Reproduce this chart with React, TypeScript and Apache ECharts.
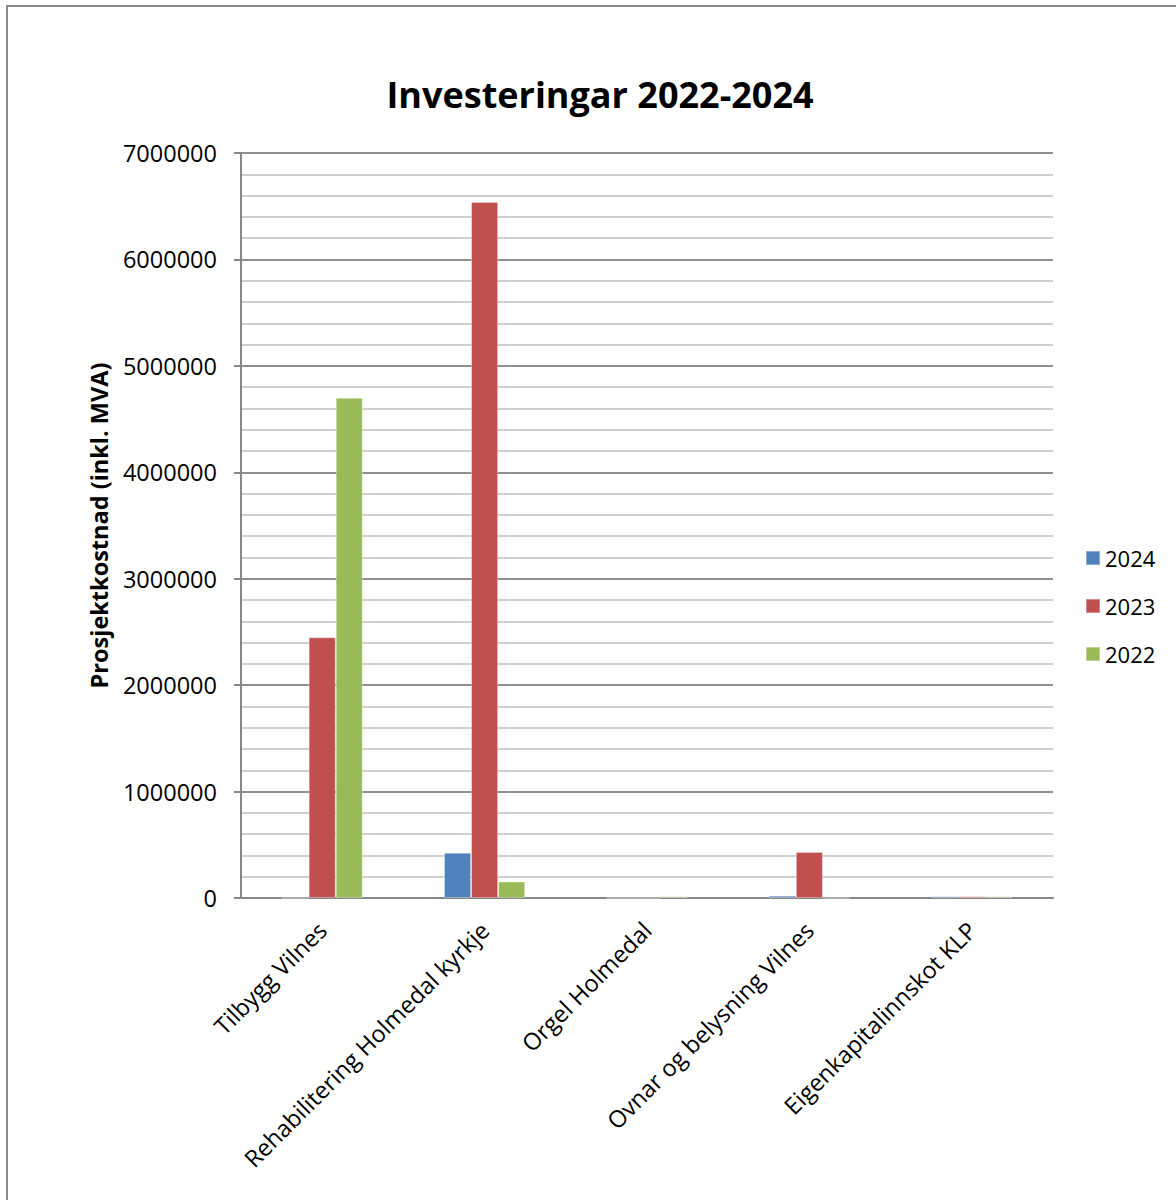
import React, { useEffect, useRef } from "react";
import * as echarts from "echarts";

const categories = [
  "Tilbygg Vilnes",
  "Rehabilitering Holmedal kyrkje",
  "Orgel Holmedal",
  "Ovnar og belysning Vilnes",
  "Eigenkapitalinnskot KLP",
];
const values2024 = [0, 425000, 0, 22000, 16000];
const values2023 = [2450000, 6540000, 0, 433000, 16000];
const values2022 = [4700000, 155000, 16000, 0, 16000];
const seriesNames = ["2024", "2023", "2022"];
const colors = ["#4F81BD", "#C0504D", "#9BBB59"];

const FONT = "'Open Sans', 'Liberation Sans', sans-serif";

export default function App() {
  const ref = useRef<HTMLDivElement>(null);
  useEffect(() => {
    document.body.style.margin = "0";
    const chart = echarts.init(ref.current!, null, { renderer: "svg" });
    const data = [values2024, values2023, values2022];
    chart.setOption({
      animation: false,
      backgroundColor: "#ffffff",
      textStyle: { fontFamily: FONT, color: "#000" },
      title: {
        text: "Investeringar 2022-2024",
        left: 595,
        top: 71,
        textAlign: "center",
        textStyle: { fontSize: 36, fontWeight: "bold", color: "#000", fontFamily: FONT },
      },
      graphic: [
        {
          type: "rect",
          shape: { x: 7, y: 6, width: 1250, height: 1300 },
          style: { fill: "none", stroke: "#8a8a8a", lineWidth: 2 },
          silent: true,
        },
      ],
      legend: {
        orient: "vertical",
        left: 1080,
        top: 541,
        itemWidth: 14,
        itemHeight: 14,
        itemGap: 24,
        icon: "rect",
        textStyle: { fontSize: 22, lineHeight: 24, color: "#000", fontFamily: FONT },
        data: seriesNames,
      },
      grid: { left: 241, right: 123, top: 153, bottom: 302, containLabel: false },
      xAxis: {
        type: "category",
        data: categories,
        axisLine: { lineStyle: { color: "#878787", width: 2 } },
        axisTick: { show: false },
        axisLabel: { rotate: 45, fontSize: 23.5, color: "#000", margin: 28, interval: 0, fontFamily: FONT },
      },
      yAxis: {
        type: "value",
        min: 0,
        max: 7000000,
        interval: 1000000,
        name: "Prosjektkostnad (inkl. MVA)",
        nameLocation: "middle",
        nameGap: 130,
        nameTextStyle: { fontSize: 23.5, fontWeight: "bold", color: "#000", fontFamily: FONT },
        axisLine: { show: true, lineStyle: { color: "#878787", width: 2 } },
        axisTick: { show: true, length: 7, lineStyle: { color: "#878787", width: 2 } },
        axisLabel: {
          fontSize: 23.5,
          color: "#000",
          margin: 24,
          fontFamily: FONT,
          formatter: (v: number) => String(v),
        },
        splitLine: { show: true, lineStyle: { color: "#8f8f8f", width: 2 } },
        minorTick: { show: false, splitNumber: 5 },
        minorSplitLine: { show: true, lineStyle: { color: "#cfcfcf", width: 2 } },
      },
      series: seriesNames.map((name, i) => ({
        name,
        type: "bar",
        data: data[i],
        barGap: "0%",
        barCategoryGap: "50%",
        itemStyle: { color: colors[i], borderColor: "rgba(255,255,255,0.35)", borderWidth: 1 },
      })),
    });
    return () => chart.dispose();
  }, []);
  return <div ref={ref} style={{ width: 1176, height: 1200, position: "absolute", left: 0, top: 0 }} />;
}
